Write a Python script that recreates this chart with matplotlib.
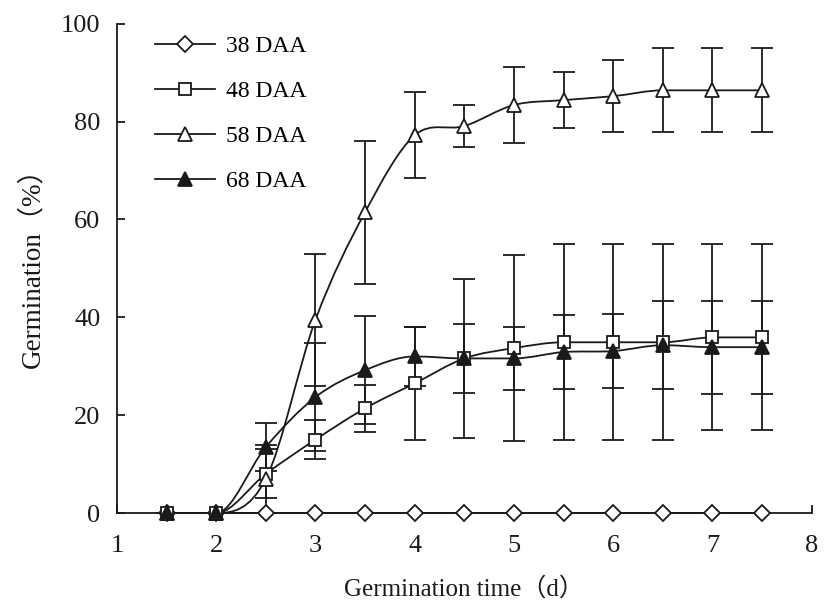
import numpy as np
import matplotlib
matplotlib.use("Agg")
import matplotlib.pyplot as plt
from matplotlib.path import Path
from matplotlib.patches import PathPatch
from matplotlib.lines import Line2D

plt.rcParams['font.family'] = ['Liberation Serif', 'Noto Sans CJK SC', 'DejaVu Serif']

days = [1.5, 2, 2.5, 3, 3.5, 4, 4.5, 5, 5.5, 6, 6.5, 7, 7.5]

daa38 = [0, 0, 0, 0, 0, 0, 0, 0, 0, 0, 0, 0, 0]
daa38_err = [0, 0, 0, 0, 0, 0, 0, 0, 0, 0, 0, 0, 0]

daa48 = [0, 0, 8, 15, 21.4, 26.5, 31.6, 33.7, 34.9, 34.9, 34.9, 35.9, 35.9]
daa48_err = [0, 0, 5, 4, 4.8, 11.5, 16.2, 19, 20, 20, 20, 19, 19]

daa58 = [0, 0, 7, 39.5, 61.5, 77.2, 79.1, 83.4, 84.4, 85.2, 86.4, 86.4, 86.4]
daa58_err = [0, 0, 7, 13.5, 14.6, 8.8, 4.2, 7.7, 5.7, 7.4, 8.6, 8.6, 8.6]

daa68 = [0, 0, 13.5, 23.7, 29.2, 32.0, 31.6, 31.6, 32.9, 33.1, 34.3, 33.9, 33.9]
daa68_err = [0, 0, 5, 11, 11, 6, 7, 6.5, 7.5, 7.5, 9, 9.5, 9.5]

labels = ['38 DAA', '48 DAA', '58 DAA', '68 DAA']
xticks = [1, 2, 3, 4, 5, 6, 7, 8]
yticks = [0, 20, 40, 60, 80, 100]

C = '#1a1a1a'

fig = plt.figure(figsize=(8.24, 6.10), dpi=100)
ax = fig.add_axes([0.142, 0.159, 0.843, 0.802])


def smooth_path(x, y):
    x = np.asarray(x, float)
    y = np.asarray(y, float)
    P = np.column_stack([x, y])
    n = len(P)
    T = []
    for i in range(n):
        p0 = P[i - 1] if i > 0 else P[i]
        p2 = P[i + 1] if i + 1 < n else P[i]
        t = (p2 - p0) / 2.0
        if 0 < i < n - 1:
            d1 = P[i][1] - P[i - 1][1]
            d2 = P[i + 1][1] - P[i][1]
            if d1 * d2 <= 0:
                t = np.array([t[0], 0.0])
        T.append(t)
    verts = [P[0]]
    codes = [Path.MOVETO]
    for i in range(n - 1):
        c1 = P[i] + T[i] / 3.0
        c2 = P[i + 1] - T[i + 1] / 3.0
        verts += [c1, c2, P[i + 1]]
        codes += [Path.CURVE4] * 3
    return Path(verts, codes)


series = [
    (daa38, daa38_err, 'D', 'white', 8),
    (daa48, daa48_err, 's', 'white', 9),
    (daa58, daa58_err, '^', 'white', 10),
    (daa68, daa68_err, '^', C, 10),
]

handles = []
for k, (vals, errs, mk, fc, ms) in enumerate(series):
    if any(e > 0 for e in errs):
        ax.errorbar(days, vals, yerr=errs, fmt='none', ecolor=C, elinewidth=1.3,
                    capsize=8, capthick=1.3, zorder=2, clip_on=False)
    ax.add_patch(PathPatch(smooth_path(days, vals), facecolor='none',
                           edgecolor=C, lw=1.3, zorder=3, clip_on=False))
    ax.plot(days, vals, linestyle='none', marker=mk, markersize=ms,
            markerfacecolor=fc, markeredgecolor=C, markeredgewidth=1.3,
            zorder=4 + k, clip_on=False)
    handles.append(Line2D([], [], color=C, lw=1.3, marker=mk, markersize=ms,
                          markerfacecolor=fc, markeredgecolor=C,
                          markeredgewidth=1.3))

ax.legend(handles, labels, loc='upper left', bbox_to_anchor=(0.035, 1.005),
          frameon=False, fontsize=17, handlelength=2.5, handletextpad=0.5,
          labelspacing=1.0, borderaxespad=0.2)

ax.set_xlim(1, 8)
ax.set_ylim(0, 100)
ax.set_xticks(xticks)
ax.set_yticks(yticks)
ax.spines['top'].set_visible(False)
ax.spines['right'].set_visible(False)
for s in ['left', 'bottom']:
    ax.spines[s].set_linewidth(1.3)
    ax.spines[s].set_color(C)
ax.tick_params(direction='in', length=6, width=1.3, colors=C, labelsize=19)
ax.tick_params(axis='x', pad=16)
ax.tick_params(axis='y', pad=12)

ax.set_xlabel('Germination time（d）', fontsize=18, color=C, labelpad=14)
ax.set_ylabel('Germination（%）', fontsize=19.5, color=C, labelpad=12)
ax.yaxis.set_label_coords(-0.103, 0.515)

fig.savefig('out.png', dpi=100)
